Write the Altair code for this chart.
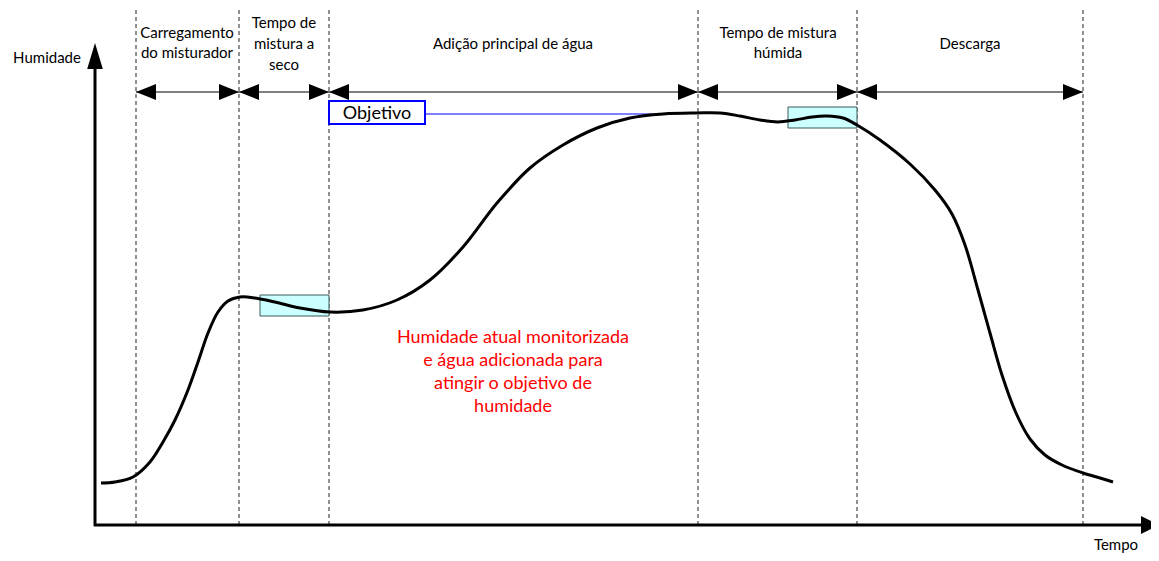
import altair as alt
import pandas as pd

# ---- data (diagram coordinates: t = time units, h = humidity drawn downward scale) ----
phase_bounds = [136, 239, 329, 698, 857, 1083]

phase_label_x = [187, 187, 284, 284, 284, 513, 778, 778, 970]
phase_label_y = [33, 53, 23, 44, 65, 44, 33, 53, 44]
phase_label_text = ["Carregamento", "do misturador", "Tempo de", "mistura a", "seco",
                    "Adição principal de água", "Tempo de mistura", "húmida", "Descarga"]

curve_t = [101, 115, 133, 150, 163, 175, 188, 198, 208, 218, 228, 240, 255, 275, 300,
           330, 363, 397, 430, 463, 497, 530, 563, 597, 630, 663, 697, 720, 740, 760,
           778, 795, 812, 827, 843, 857, 880, 910, 935, 952, 965, 978, 990, 1002,
           1016, 1030, 1045, 1062, 1083, 1100, 1113]
curve_h = [483, 482, 477, 462, 442, 420, 390, 362, 333, 312, 301, 297, 298, 302, 308,
           312, 310, 300, 280, 247, 203, 168, 145, 128, 118, 114, 113, 113, 116, 120,
           122, 120, 117, 116, 118, 125, 140, 164, 190, 214, 245, 290, 333, 375,
           413, 439, 455, 465, 473, 478, 482]

hold_t0 = [260, 788]
hold_t1 = [329, 857]
hold_h0 = [295, 107]
hold_h1 = [316, 128]

target_h = 114
target_box = dict(t0=329, t1=425, h0=101, h1=124)
target_line_end = 652

red_lines = ["Humidade atual monitorizada", "e água adicionada para",
             "atingir o objetivo de", "humidade"]
red_x = 513
red_y = [338, 361, 384, 407]

axis_origin = (95, 525)
y_axis_top = 43
x_axis_end = 1159
arrow_row = 92
dash_top = 10

# ---- scales ----
xs = alt.Scale(domain=[8, 1151], nice=False, zero=False)
ys = alt.Scale(domain=[8, 553], nice=False, zero=False, reverse=True)
X = lambda f: alt.X(f, type="quantitative", scale=xs, axis=None)
Y = lambda f: alt.Y(f, type="quantitative", scale=ys, axis=None)

FONT = "Lato"

# dashed phase separators
dash_df = pd.DataFrame({"t": phase_bounds, "h0": dash_top, "h1": axis_origin[1]})
dashes = alt.Chart(dash_df).mark_rule(color="#222222", strokeWidth=1, strokeDash=[4, 3]).encode(
    x=X("t"), y=Y("h0"), y2="h1")

# phase arrows
seg_df = pd.DataFrame({"t0": phase_bounds[:-1], "t1": phase_bounds[1:], "h": arrow_row})
seg_lines = alt.Chart(seg_df).mark_rule(color="black", strokeWidth=1).encode(
    x=X("t0"), x2="t1", y=Y("h"))
left_heads = alt.Chart(seg_df).mark_point(
    shape="M0,0L2,-0.8L2,0.8Z", size=400, filled=True, color="black", opacity=1, strokeWidth=0
).encode(x=X("t0"), y=Y("h"))
right_heads = alt.Chart(seg_df).mark_point(
    shape="M0,0L-2,-0.8L-2,0.8Z", size=400, filled=True, color="black", opacity=1, strokeWidth=0
).encode(x=X("t1"), y=Y("h"))

# axes
yaxis_df = pd.DataFrame({"t": [axis_origin[0]], "h0": [axis_origin[1] + 1], "h1": [y_axis_top + 20]})
yaxis = alt.Chart(yaxis_df).mark_rule(color="black", strokeWidth=3).encode(
    x=X("t"), y=Y("h0"), y2="h1")
xaxis_df = pd.DataFrame({"t0": [axis_origin[0] - 1], "t1": [x_axis_end - 14], "h": [axis_origin[1]]})
xaxis = alt.Chart(xaxis_df).mark_rule(color="black", strokeWidth=3).encode(
    x=X("t0"), x2="t1", y=Y("h"))
yhead = alt.Chart(pd.DataFrame({"t": [axis_origin[0]], "h": [y_axis_top]})).mark_point(
    shape="M0,0L-0.6,2L0.6,2Z", size=676, filled=True, color="black", opacity=1, strokeWidth=0
).encode(x=X("t"), y=Y("h"))
xhead = alt.Chart(pd.DataFrame({"t": [x_axis_end], "h": [axis_origin[1]]})).mark_point(
    shape="M0,0L-2,-1L-2,1Z", size=324, filled=True, color="black", opacity=1, strokeWidth=0
).encode(x=X("t"), y=Y("h"))

# hold boxes
hold_df = pd.DataFrame({"t0": hold_t0, "t1": hold_t1, "h0": hold_h0, "h1": hold_h1})
holds = alt.Chart(hold_df).mark_rect(fill="#ccffff", stroke="#3a5a5a", strokeWidth=1).encode(
    x=X("t0"), x2="t1", y=Y("h0"), y2="h1")

# target
tline = alt.Chart(pd.DataFrame({"t0": [target_box["t1"]], "t1": [target_line_end], "h": [target_h]})).mark_rule(
    color="#0000ff", strokeWidth=1).encode(x=X("t0"), x2="t1", y=Y("h"))
tbox = alt.Chart(pd.DataFrame([target_box])).mark_rect(fill="white", stroke="#0000ff", strokeWidth=2).encode(
    x=X("t0"), x2="t1", y=Y("h0"), y2="h1")
ttext = alt.Chart(pd.DataFrame({"t": [(target_box["t0"] + target_box["t1"]) / 2], "h": [target_h],
                                "txt": ["Objetivo"]})).mark_text(
    font=FONT, fontSize=18, color="black", baseline="middle", align="center").encode(
    x=X("t"), y=Y("h"), text="txt:N")

# curve
curve_df = pd.DataFrame({"t": curve_t, "h": curve_h})
curve = alt.Chart(curve_df).mark_line(color="black", strokeWidth=3, interpolate="catmull-rom").encode(
    x=X("t"), y=Y("h"), order="t:Q")

# labels
lab_df = pd.DataFrame({"t": phase_label_x, "h": phase_label_y, "txt": phase_label_text})
labels = alt.Chart(lab_df).mark_text(font=FONT, fontSize=15, color="black", baseline="middle",
                                     align="center").encode(x=X("t"), y=Y("h"), text="txt:N")
red_df = pd.DataFrame({"t": red_x, "h": red_y, "txt": red_lines})
red = alt.Chart(red_df).mark_text(font=FONT, fontSize=18, color="#ff0000", baseline="middle",
                                  align="center").encode(x=X("t"), y=Y("h"), text="txt:N")
ax_df = pd.DataFrame({"t": [47, 1116], "h": [58, 545], "txt": ["Humidade", "Tempo"]})
axlabels = alt.Chart(ax_df).mark_text(font=FONT, fontSize=15, color="black", baseline="middle",
                                      align="center").encode(x=X("t"), y=Y("h"), text="txt:N")

chart = alt.layer(
    dashes, seg_lines, left_heads, right_heads, holds, tline, tbox, ttext,
    curve, yaxis, xaxis, yhead, xhead, labels, red, axlabels
).properties(
    width=1143, height=545, autosize=alt.AutoSizeParams(type="none"), padding=0
).configure_view(stroke=None)

chart.save("out.html", embed_options={"renderer": "svg", "actions": False})
